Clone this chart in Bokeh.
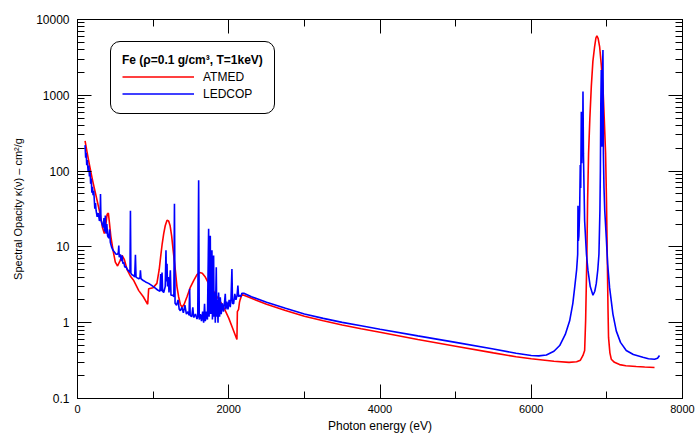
from bokeh.plotting import figure
from bokeh.models import (LinearAxis, LogAxis, FixedTicker, SingleIntervalTicker,
                          Legend, LegendItem, CustomJSTickFormatter)
from bokeh.embed import file_html
from bokeh.resources import INLINE

# ---------------- data ----------------
atmed_ev = [100, 130, 160, 200, 250, 300, 330, 355, 375, 392, 408, 422, 440, 470, 500, 530, 560, 590,
            620, 656, 700, 744, 810, 870, 928, 941, 1000, 1050, 1080, 1100, 1120, 1140, 1160, 1184,
            1205, 1225, 1245, 1265, 1294, 1315, 1337, 1360, 1382, 1410, 1448, 1490, 1536, 1580, 1615,
            1650, 1690, 1740, 1780, 1822, 1870, 1910, 1960, 2000, 2050, 2108, 2114, 2130, 2142, 2150,
            2174, 2200, 2300, 2500, 2750, 3000, 3250, 3500, 3750, 4000, 4500, 5000, 5500, 5800, 6000,
            6300, 6500, 6600, 6650, 6684, 6706, 6719, 6736, 6745, 6758, 6775, 6794, 6815, 6838, 6855,
            6868, 6885, 6904, 6925, 6948, 6965, 6983, 6995, 7005, 7015, 7022, 7040, 7058, 7100, 7168,
            7250, 7388, 7500, 7630]
atmed_val = [250, 170, 118, 75, 45, 27, 18, 15, 20, 27, 28, 21, 14, 9, 6.3, 5.6, 6.5, 7.7,
             6.8, 5, 4.1, 3.6, 2.65, 2.2, 1.75, 2.8, 2.9, 3.3, 5, 7.5, 11, 15, 19, 22.5,
             22, 19, 14, 9, 4.9, 3, 2.2, 1.75, 1.6, 1.75, 2.2, 2.9, 3.6, 4.3, 4.6,
             4.5, 4.0, 3.2, 2.8, 2.4, 2.0, 1.77, 1.4, 1.15, 0.85, 0.6, 1.4, 1.5, 1.86, 2.0,
             2.35, 2.3, 2.1, 1.75, 1.45, 1.22, 1.06, 0.93, 0.83, 0.75, 0.6, 0.49, 0.40, 0.355, 0.335,
             0.31, 0.30, 0.305, 0.32, 0.37, 0.43, 1.06, 8.1, 40, 170, 500, 1300, 2800, 4400, 5700,
             6100, 5600, 4400, 2600, 1300, 500, 170, 40, 8, 1.5, 0.64, 0.40, 0.33, 0.30, 0.28,
             0.27, 0.264, 0.26, 0.256]

ledcop_ev = [100, 108, 115, 122, 130, 140, 150, 158, 166, 174, 182, 190, 198, 206, 215, 229, 238, 246,
             260, 275, 290, 300, 304, 310, 325, 340, 350, 358, 368, 376, 388, 398, 414, 424, 434, 450,
             470, 490, 510, 530, 540, 546, 552, 568, 578, 590, 600, 612, 625, 640, 660, 680, 694, 700,
             706, 720, 740, 756, 766, 774, 790, 810, 826, 832, 840, 870, 900, 940, 980, 1020, 1060,
             1090, 1100, 1108, 1118, 1126, 1140, 1160, 1170, 1176, 1184, 1190, 1200, 1210, 1228, 1236,
             1260, 1274, 1282, 1290, 1310, 1330, 1345, 1360, 1380, 1400, 1420, 1440, 1460, 1475, 1483,
             1490, 1510, 1525, 1536, 1560, 1580, 1590, 1602, 1610, 1625, 1640, 1655, 1668, 1680, 1690,
             1705, 1718, 1734, 1740, 1748, 1756, 1762, 1770, 1778, 1784, 1792, 1800, 1806, 1815, 1822,
             1835, 1842, 1850, 1858, 1866, 1879, 1888, 1900, 1915, 1930, 1945, 1954, 1962, 1975, 1990,
             2005, 2020, 2030, 2042, 2050, 2064, 2080, 2095, 2110, 2121, 2130, 2145, 2160, 2174, 2200,
             2300, 2500, 2750, 3000, 3250, 3500, 3750, 4000, 4500, 5000, 5500, 5800, 6000, 6100, 6200,
             6300, 6376, 6450, 6508, 6550, 6574, 6600, 6614, 6618, 6623, 6630, 6640, 6648, 6654, 6662,
             6668, 6676, 6680, 6684, 6690, 6698, 6706, 6730, 6750, 6780, 6816, 6840, 6860, 6880, 6895,
             6908, 6914, 6920, 6926, 6932, 6940, 6948, 6954, 6962, 6972, 6992, 7010, 7036, 7080, 7124,
             7180, 7256, 7350, 7476, 7550, 7630, 7670, 7696]
ledcop_val = [220, 150, 175, 120, 140, 100, 118, 85, 102, 68, 80, 52, 62, 48, 55, 32, 38, 30,
              25, 28, 22, 24, 50, 23, 20, 18, 24, 16, 26, 15, 20, 14, 13, 17, 11.5, 10,
              9, 8.5, 8, 8, 8.5, 10.4, 7.3, 8, 6.5, 7.7, 6, 6.3, 5.4, 5.5, 5, 4.8, 4.6, 30,
              4.5, 4.3, 4.2, 4.0, 7.9, 4.0, 3.9, 3.8, 3.9, 4.9, 3.8, 3.6, 3.45, 3.3, 3.1, 2.9, 2.7,
              2.6, 4.4, 2.6, 4.6, 2.6, 2.5, 3.0, 9.0, 3.5, 6.0, 3.0, 4.0, 2.5, 4.9, 2.3,
              2.3, 2.2, 37, 1.8, 1.7, 2.0, 1.5, 1.44, 1.6, 1.35, 1.7, 1.3, 1.4, 1.25, 2.8,
              1.25, 1.2, 1.6, 1.17, 1.3, 1.12, 1.2, 76, 1.1, 1.3, 1.05, 1.4, 1.0, 1.77, 1.05,
              1.4, 1.1, 17.4, 1.2, 3, 14, 1.3, 2.5, 9, 1.1, 2, 7.7, 1.2, 2.5, 1.0,
              5.4, 1.2, 2.0, 1.0, 2.5, 1.2, 2.16, 1.3, 1.8, 1.4, 1.9, 2.4, 1.5, 1.9, 1.5,
              2.0, 1.6, 2.1, 5.1, 1.8, 1.77, 2.4, 2.0, 2.3, 3.1, 2.2, 2.3, 2.2, 2.45, 2.45,
              2.2, 1.86, 1.55, 1.3, 1.14, 1.01, 0.91, 0.82, 0.67, 0.55, 0.45, 0.395, 0.37, 0.365, 0.375,
              0.42, 0.50, 0.7, 1.06, 1.8, 2.9, 5, 8, 35, 12, 14, 30, 120, 60, 605,
              127, 500, 200, 1120, 170, 60, 22, 8, 4.9, 3.0, 2.3, 2.6, 3.3, 5, 8,
              30, 100, 800, 2150, 209, 1500, 3960, 170, 60, 30, 13.4, 6, 2.9, 1.3, 0.78,
              0.55, 0.43, 0.38, 0.35, 0.335, 0.33, 0.34, 0.37]

y_major_ticks = [0.1, 1, 10, 100, 1000, 10000]
y_minor_ticks = [m * 10.0 ** e for e in range(-1, 4) for m in range(2, 10)]

series_names = ["ATMED", "LEDCOP"]
legend_title = "Fe (\u03c1=0.1 g/cm\u00b3, T=1keV)"

FONT = "Liberation Sans"

p = figure(width=698, height=436, x_range=(0, 8000), y_range=(0.1, 10000),
           y_axis_type="log", output_backend="svg", toolbar_location=None,
           min_border_left=77, min_border_right=16, min_border_top=19, min_border_bottom=38)
p.background_fill_color = "white"
p.border_fill_color = "white"
p.outline_line_color = "black"
p.xgrid.visible = False
p.ygrid.visible = False

r_red = p.line(atmed_ev, atmed_val, line_color="#ff0000", line_width=1.6)
r_blue = p.line(ledcop_ev, ledcop_val, line_color="#0000ff", line_width=1.6)

yfmt = CustomJSTickFormatter(code="return tick < 1 ? tick.toFixed(1) : tick.toFixed(0);")


def style_axis(ax, labels, font_size):
    ax.axis_line_color = "black"
    ax.axis_line_width = 1
    ax.major_tick_in = 14
    ax.major_tick_out = 0
    ax.minor_tick_in = 7
    ax.minor_tick_out = 0
    ax.major_tick_line_color = "black"
    ax.minor_tick_line_color = "black"
    ax.major_label_text_font = FONT
    ax.major_label_text_color = "black"
    ax.major_label_text_font_size = font_size
    ax.axis_label_text_font = FONT
    ax.axis_label_text_font_style = "normal"
    ax.axis_label_text_color = "black"
    ax.axis_label_text_font_size = "11px"
    if not labels:
        ax.formatter = CustomJSTickFormatter(code="return '';")
        ax.major_label_standoff = 0


xb = p.xaxis[0]
xb.ticker = SingleIntervalTicker(interval=2000, num_minor_ticks=2)
style_axis(xb, True, "11px")
xb.major_label_standoff = 6
xb.axis_label = "Photon energy (eV)"
xb.axis_label_text_font_size = "12px"
xb.axis_label_standoff = 3

yl = p.yaxis[0]
yl.ticker = FixedTicker(ticks=y_major_ticks, minor_ticks=y_minor_ticks)
yl.formatter = yfmt
style_axis(yl, True, "12px")
yl.major_label_standoff = 8
yl.axis_label = "Spectral Opacity \u03ba(\u03bd) \u2013 cm\u00b2/g"
yl.axis_label_standoff = 9

xt = LinearAxis(ticker=SingleIntervalTicker(interval=2000, num_minor_ticks=2))
style_axis(xt, False, "11px")
p.add_layout(xt, "above")

yr = LogAxis(ticker=FixedTicker(ticks=y_major_ticks, minor_ticks=y_minor_ticks))
style_axis(yr, False, "11px")
p.add_layout(yr, "right")

legend = Legend(items=[LegendItem(label=series_names[0], renderers=[r_red]),
                       LegendItem(label=series_names[1], renderers=[r_blue])],
                location=(33, 284), title=legend_title)
legend.title_text_font = FONT
legend.title_text_font_style = "bold"
legend.title_text_font_size = "12px"
legend.title_text_color = "black"
legend.title_standoff = 1
legend.label_text_font = FONT
legend.label_text_font_size = "12px"
legend.label_text_color = "black"
legend.glyph_width = 72
legend.glyph_height = 17
legend.label_height = 17
legend.label_standoff = 9
legend.padding = 11
legend.spacing = 0
legend.margin = 0
legend.border_line_color = "black"
legend.border_line_alpha = 1.0
legend.border_line_width = 1.2
legend.background_fill_color = "white"
legend.background_fill_alpha = 1
if "border_radius" in Legend.properties():
    legend.border_radius = 10
p.add_layout(legend)

open("out.html", "w").write(file_html(p, INLINE))
